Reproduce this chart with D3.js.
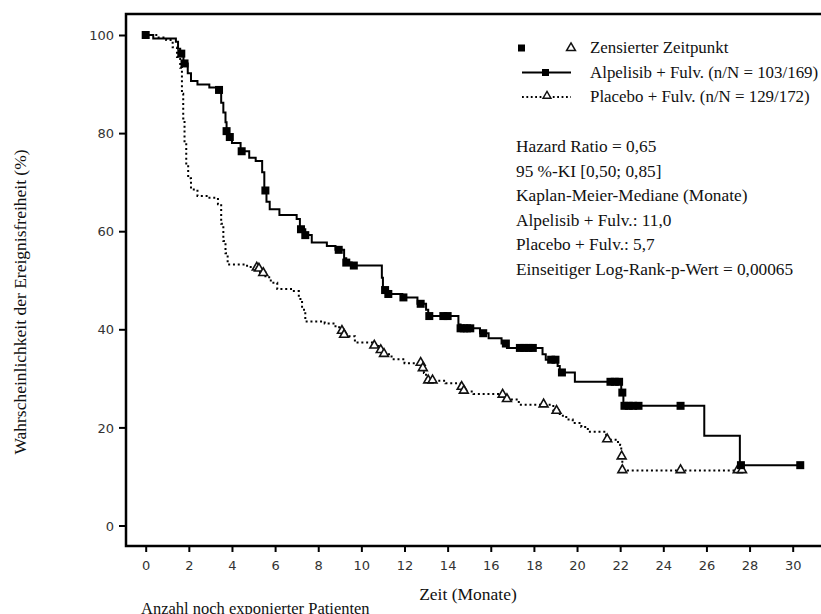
<!DOCTYPE html>
<html><head><meta charset="utf-8">
<script src="https://cdn.jsdelivr.net/npm/d3@7"></script>
<style>
body{margin:0;background:#fff;}
svg{display:block;}
.serif{font-family:"Liberation Serif","Times New Roman",serif;fill:#111;}
.tick text{font-family:"DejaVu Sans",Verdana,sans-serif;font-size:13px;fill:#333;}
</style></head>
<body>
<svg id="c" width="821" height="614"></svg>
<script>
// ---- data ----
const xTicks = [0,2,4,6,8,10,12,14,16,18,20,22,24,26,28,30];
const yTicks = [0,20,40,60,80,100];

// Kaplan-Meier steps [month, % event-free]
const alpelisibSteps = [
[0,100],[0.35,99.3],[1.4,98.6],[1.5,97.2],[1.6,96.2],[1.75,94.2],[1.95,92.2],[2.1,90.6],[2.4,89.9],[2.95,89.3],[3.45,88.8],[3.5,86.2],[3.6,84.2],[3.7,82.2],[3.75,80.4],[3.85,79.2],[4.0,78],[4.4,76.3],[4.8,75],[5.1,74.3],[5.4,72],[5.5,68.3],[5.6,66],[5.75,64.5],[6.2,63.3],[7.0,62.5],[7.15,60.4],[7.4,59.2],[7.7,57.7],[8.4,57],[8.8,56.2],[9.2,54.5],[9.3,53.6],[9.55,53],[10.95,50.5],[11.0,48],[11.2,47.2],[11.9,46.5],[12.6,45.2],[13.0,44],[13.1,42.7],[14.5,41],[14.6,40.2],[15.5,39.2],[15.9,38.2],[16.5,37.1],[16.75,36.2],[18.4,34.9],[18.55,33.8],[19.1,32.5],[19.2,31.2],[19.9,29.3],[22.05,27.1],[22.15,24.4],[25.9,18.3],[27.55,12.3],[30.35,12.3]
];
const alpelisibCensored = [
[0,100],[1.65,96.2],[1.8,94.2],[3.4,88.8],[3.75,80.4],[3.9,79.2],[4.45,76.3],[5.55,68.3],[7.2,60.4],[7.4,59.2],[8.95,56.2],[9.3,53.6],[9.65,53],[11.1,48],[11.25,47.2],[11.95,46.5],[12.75,45.2],[13.15,42.7],[13.8,42.7],[14.0,42.7],[14.6,40.2],[14.75,40.2],[14.9,40.2],[15.05,40.2],[15.65,39.2],[16.7,37.1],[17.35,36.2],[17.55,36.2],[17.75,36.2],[17.95,36.2],[18.8,33.8],[19.0,33.8],[19.3,31.2],[21.55,29.3],[21.75,29.3],[21.95,29.3],[22.1,27.1],[22.2,24.4],[22.4,24.4],[22.6,24.4],[22.85,24.4],[24.8,24.4],[27.6,12.3],[30.35,12.3]
];
const placeboSteps = [
[0,100],[0.6,99.5],[0.95,99],[1.25,97.5],[1.45,95.5],[1.6,93.3],[1.68,88],[1.74,83],[1.8,78],[1.88,73.5],[1.97,70.8],[2.1,68.5],[2.4,67.2],[2.9,66.8],[3.35,65.5],[3.5,61.5],[3.6,58],[3.7,55.5],[3.8,53.2],[4.7,52.7],[5.3,51.6],[5.55,50.6],[5.8,49.5],[6.1,48.2],[6.8,47.8],[7.1,46.2],[7.25,44],[7.4,41.6],[8.3,41.2],[8.8,40.4],[9.1,39.6],[9.2,38.6],[9.7,37.3],[10.55,36.6],[10.8,35.7],[11.0,34.9],[11.4,33.9],[12.0,33.1],[12.8,32],[12.9,31.1],[13.0,29.5],[13.9,29],[14.6,28.2],[14.8,27.3],[15.2,26.8],[16.45,26.6],[16.7,25.7],[17.3,24.6],[18.9,23.5],[19.2,22.4],[19.5,21.6],[19.8,20.9],[20.2,20.1],[20.5,19.1],[21.35,17.5],[21.85,17],[22.0,16.4],[22.05,14.0],[22.1,11.2],[27.7,11.2]
];
const placeboCensored = [
[5.15,52.5],[5.25,52.3],[5.45,51.4],[9.1,39.6],[9.2,38.8],[10.6,36.6],[10.9,35.7],[11.05,34.9],[12.75,33.1],[12.85,32],[13.1,29.5],[13.3,29.5],[14.65,28.2],[14.75,27.4],[16.55,26.6],[16.75,25.7],[18.45,24.6],[19.05,23.3],[21.4,17.5],[22.07,14.0],[22.1,11.2],[24.8,11.2],[27.45,11.2],[27.65,11.2]
];

const legendLabels = ["Zensierter Zeitpunkt","Alpelisib + Fulv. (n/N = 103/169)","Placebo + Fulv. (n/N = 129/172)"];
const statsLines = ["Hazard Ratio = 0,65","95 %-KI [0,50; 0,85]","Kaplan-Meier-Mediane (Monate)","Alpelisib + Fulv.: 11,0","Placebo + Fulv.: 5,7","Einseitiger Log-Rank-p-Wert = 0,00065"];
const xTitle = "Zeit (Monate)";
const yTitle = "Wahrscheinlichkeit der Ereignisfreiheit (%)";
const riskTitle = "Anzahl noch exponierter Patienten";

// ---- drawing ----
const svg = d3.select("#c");
const x = d3.scaleLinear().domain([0,30]).range([145.7,792.7]);
const y = d3.scaleLinear().domain([0,100]).range([525.5,35]);
const axisX = 126, axisY = 546;

// x axis
const gx = svg.append("g").attr("transform",`translate(0,${axisY})`)
  .call(d3.axisBottom(x).tickValues(xTicks).tickSize(6).tickSizeOuter(0).tickPadding(9));
gx.select(".domain").remove();
gx.selectAll(".tick line").attr("stroke","#000").attr("stroke-width",2);
// y axis
const gy = svg.append("g").attr("transform",`translate(${axisX},0)`)
  .call(d3.axisLeft(y).tickValues(yTicks).tickSize(7).tickSizeOuter(0).tickPadding(5));
gy.select(".domain").remove();
gy.selectAll(".tick line").attr("stroke","#000").attr("stroke-width",2);
gy.selectAll(".tick text").attr("dy","0.36em");

// frame
svg.append("path").attr("d",`M821,${axisY}H${axisX}V14H821`)
  .attr("fill","none").attr("stroke","#000").attr("stroke-width",2.5);

const line = d3.line().x(d=>x(d[0])).y(d=>y(d[1])).curve(d3.curveStepAfter);

svg.append("path").datum(placeboSteps).attr("d",line)
  .attr("fill","none").attr("stroke","#000").attr("stroke-width",2).attr("stroke-dasharray","2,2.8");
svg.append("path").datum(alpelisibSteps).attr("d",line)
  .attr("fill","none").attr("stroke","#000").attr("stroke-width",2);

const tri = d3.symbol().type(d3.symbolTriangle).size(34);
svg.append("g").selectAll("path").data(placeboCensored).join("path")
  .attr("d",tri).attr("transform",d=>`translate(${x(d[0])},${y(d[1])-0.5})`)
  .attr("fill","#fff").attr("stroke","#111").attr("stroke-width",1.6);
svg.append("g").selectAll("rect").data(alpelisibCensored).join("rect")
  .attr("x",d=>x(d[0])-4).attr("y",d=>y(d[1])-4).attr("width",8).attr("height",8).attr("fill","#000");

// legend
const lg = svg.append("g");
lg.append("rect").attr("x",518).attr("y",44.5).attr("width",7).attr("height",7).attr("fill","#000");
lg.append("path").attr("d",tri).attr("transform","translate(571,48)").attr("fill","#fff").attr("stroke","#111").attr("stroke-width",1.5);
lg.append("line").attr("x1",522).attr("x2",571).attr("y1",72.5).attr("y2",72.5).attr("stroke","#000").attr("stroke-width",2.2);
lg.append("rect").attr("x",542).attr("y",69).attr("width",7).attr("height",7).attr("fill","#000");
lg.append("line").attr("x1",522).attr("x2",571).attr("y1",97).attr("y2",97).attr("stroke","#000").attr("stroke-width",1.8).attr("stroke-dasharray","1.8,2.6");
lg.append("path").attr("d",d3.symbol().type(d3.symbolTriangle).size(28)).attr("transform","translate(547,96)").attr("fill","#fff").attr("stroke","#111").attr("stroke-width",1.4);
lg.selectAll("text").data(legendLabels).join("text").attr("class","serif")
  .attr("x",590).attr("y",(d,i)=>53+i*24.5).attr("font-size",16.9).text(d=>d);

svg.append("g").selectAll("text").data(statsLines).join("text").attr("class","serif")
  .attr("x",516).attr("y",(d,i)=>152+i*24.5).attr("font-size",17.3).text(d=>d);

// titles
svg.append("text").attr("class","serif").attr("x",468).attr("y",600).attr("text-anchor","middle").attr("font-size",17.5).text(xTitle);
svg.append("text").attr("class","serif").attr("x",141).attr("y",613.5).attr("font-size",16.5).text(riskTitle);
svg.append("text").attr("class","serif").attr("transform","translate(26,302) rotate(-90)").attr("text-anchor","middle").attr("font-size",17.5).attr("fill","#333").text(yTitle);
</script>
</body></html>
